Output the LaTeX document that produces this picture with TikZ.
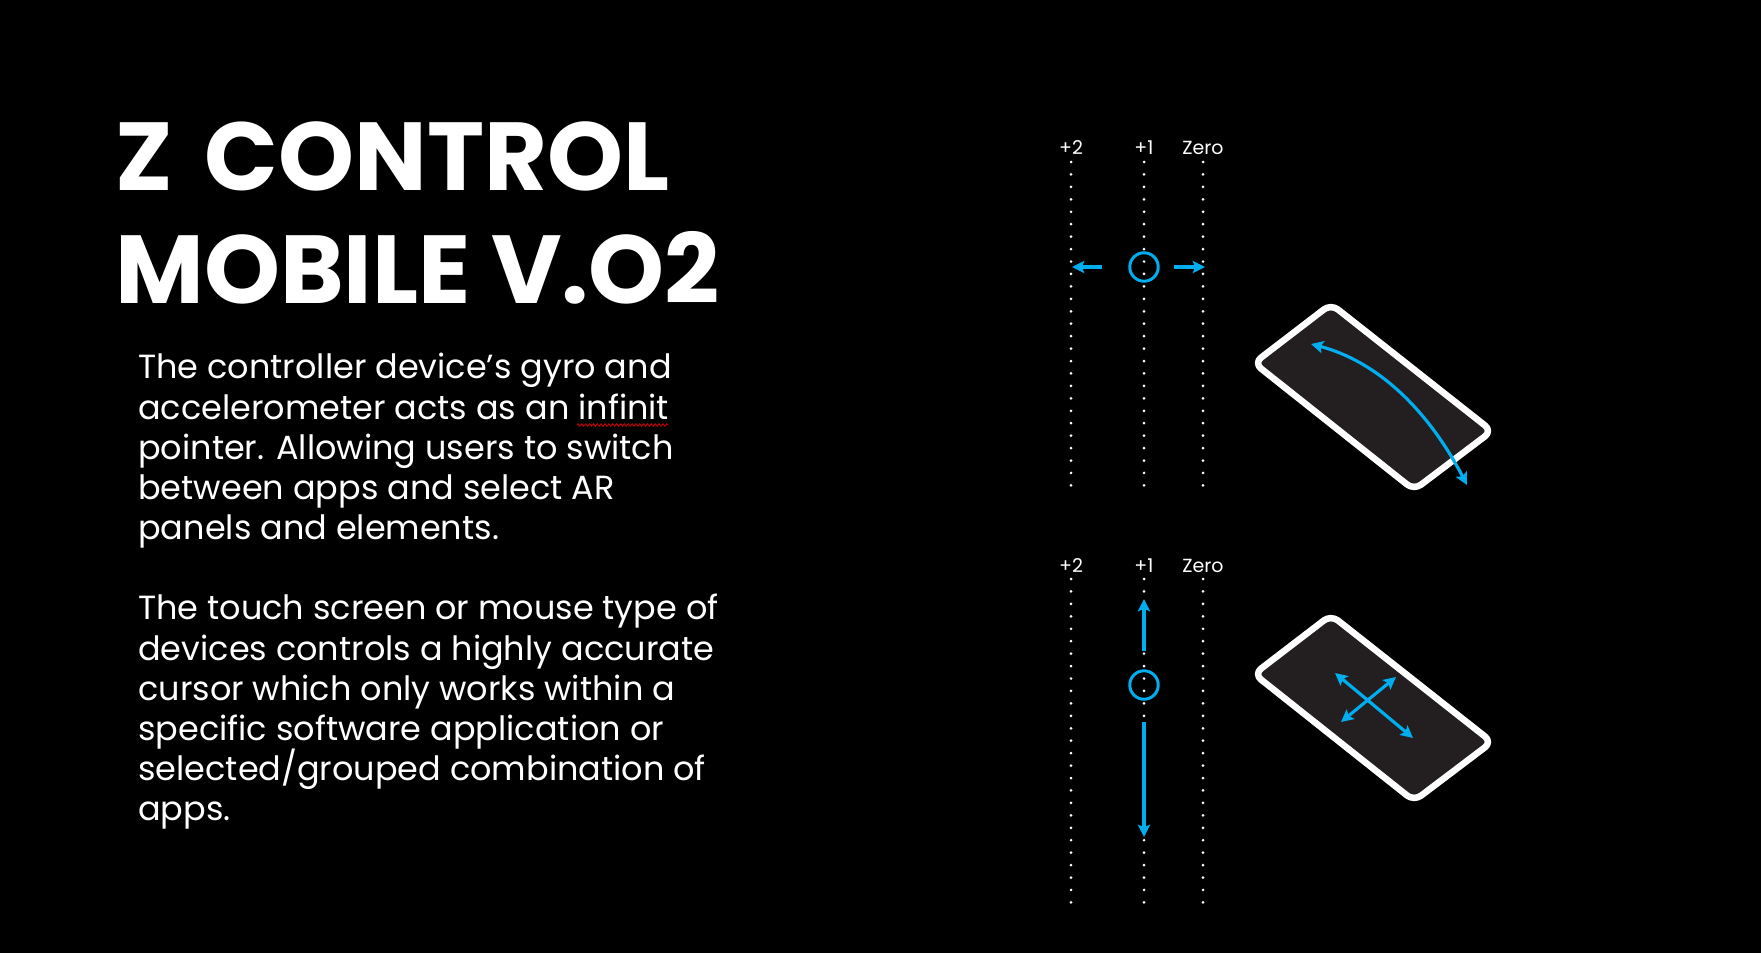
\documentclass[tikz,border=0pt]{standalone}
\usepackage{xcolor}
\usepackage{fontspec}
\usetikzlibrary{arrows.meta,decorations.pathmorphing}
\setmainfont{Poppins}
\definecolor{appblue}{HTML}{00AEEF}
\definecolor{phonegrey}{HTML}{231F20}
\setlength{\normallineskiplimit}{-20pt}
\setlength{\lineskiplimit}{-20pt}
\begin{document}
\begin{tikzpicture}[
  x=0.02cm,y=-0.02cm,
  headline/.style={anchor=north west,align=left,text=white,inner sep=0pt,
    font=\fontsize{55pt}{64.7pt}\bfseries\selectfont},
  para/.style={anchor=north west,align=left,text=white,inner sep=0pt,
    font=\fontsize{19.05pt}{22.87pt}\selectfont},
  lbl/.style={text=white,inner sep=0pt,font=\fontsize{10.8pt}{12pt}\selectfont},
  dots/.style={white,line width=1.7pt,line cap=round,dash pattern=on 0pt off 7.08pt},
  ring/.style={circle,draw=appblue,line width=1.7pt,minimum size=16.2pt,inner sep=0pt},
  arr/.style={{Stealth[length=7pt,width=7pt,inset=1.4pt]}-{Stealth[length=7pt,width=7pt,inset=1.4pt]},appblue,line width=1.8pt},
  rarr/.style={-{Stealth[length=7pt,width=7pt,inset=1.4pt]},appblue,line width=1.8pt},
  phone/.style={draw=white,fill=phonegrey,line width=3.7pt,line join=round,rounded corners=5pt}]

  \fill[black] (0,0) rectangle (1761,953);
  \useasboundingbox (0,0) rectangle (1761,953);

  \node[headline] (title) at (115,121) {Z\hspace{6.5pt} CONTROL\\MOBILE V.O2};
  \node[para] (gyro) at (138,353) {The controller device’s gyro and\\accelerometer acts as an infinit\\pointer. Allowing users to switch\\between apps and select AR\\panels and elements.};
  \node[para] (touch) at (138,594) {The touch screen or mouse type of\\devices controls a highly accurate\\cursor which only works within a\\specific software application or\\selected/grouped combination of\\apps.};
  \draw[red!80!black,line width=0.5pt,decorate,decoration={zigzag,amplitude=0.7pt,segment length=2.2pt}] (577,425) -- (668,425);

  \node[lbl] (plustwoA) at (1071,148) {+2};
  \node[lbl] (plusoneA) at (1144,148) {+1};
  \node[lbl] (zeroA) at (1203,148) {Zero};
  \draw[dots] (1071,162) -- (1071,486);
  \draw[dots] (1144,162) -- (1144,486);
  \draw[dots] (1203,162) -- (1203,486);
  \node[ring] (ringA) at (1144,267) {};
  \draw[rarr] (1102,267) -- (1072,267);
  \draw[rarr] (1174,267) -- (1205,267);

  \draw[phone] (1331,304) -- (1492,431) -- (1414,490) -- (1254,363) -- cycle;
  \draw[arr] (1311,344) .. controls (1376,361) and (1427,408) .. (1467,485);

  \node[lbl] (plustwoB) at (1071,566) {+2};
  \node[lbl] (plusoneB) at (1144,566) {+1};
  \node[lbl] (zeroB) at (1203,566) {Zero};
  \draw[dots] (1071,579) -- (1071,904);
  \draw[dots] (1144,579) -- (1144,904);
  \draw[dots] (1203,579) -- (1203,904);
  \node[ring] (ringB) at (1144,685) {};
  \draw[rarr] (1144,651) -- (1144,599);
  \draw[rarr] (1144,722) -- (1144,837);

  \draw[phone] (1331,615) -- (1492,742) -- (1414,801) -- (1254,674) -- cycle;
  \draw[arr] (1335,673) -- (1413,738);
  \draw[arr] (1341,722) -- (1396,677);
\end{tikzpicture}
\end{document}
